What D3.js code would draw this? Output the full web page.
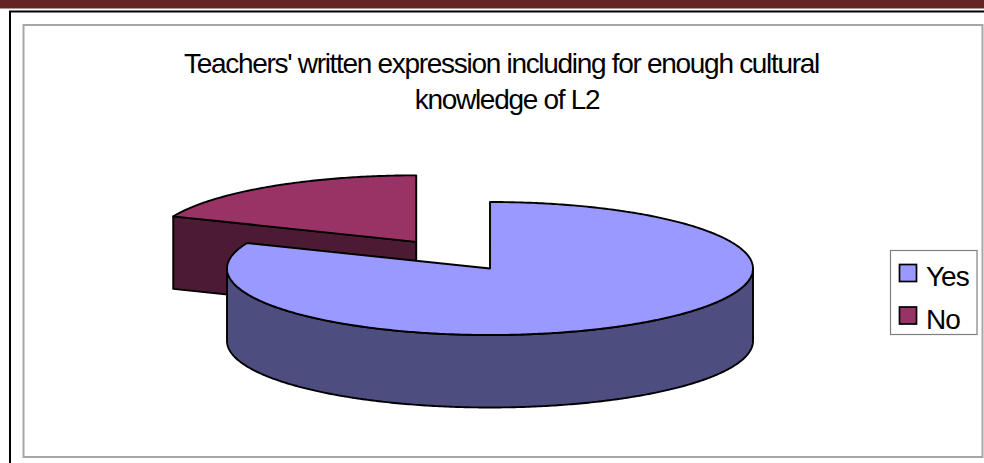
<!DOCTYPE html>
<html>
<head>
<meta charset="utf-8">
<script src="https://cdn.jsdelivr.net/npm/d3@7/dist/d3.min.js"></script>
<style>
html,body{margin:0;padding:0;background:#fff;overflow:hidden}
svg{display:block}
text{font-family:"Liberation Sans",Arial,sans-serif;fill:#000}
</style>
</head>
<body>
<script>
// Survey answers, in percent
const categories = ["Yes", "No"];
const seriesValues = [81.25, 18.75];
const titleLines = ["Teachers' written expression including for enough cultural", "knowledge of L2"];
const topColours = ["#9999ff", "#993366"];
const sideColours = ["#4d4d80", "#4d1a33"];
const explodeX = [0, 0.505];
const explodeY = [0, 0.482];

const svg = d3.select("body").append("svg").attr("width", 984).attr("height", 463);

// Page banner and the two frames round the chart
svg.append("rect").attr("x", 0).attr("y", 0).attr("width", 984).attr("height", 8.5).attr("fill", "#642424");
svg.append("rect").attr("x", 10).attr("y", 11.5).attr("width", 985).attr("height", 460)
  .attr("fill", "none").attr("stroke", "#000").attr("stroke-width", 2);
svg.append("rect").attr("x", 23.5).attr("y", 25).attr("width", 959).attr("height", 432)
  .attr("fill", "#fff").attr("stroke", "#a6a6a6").attr("stroke-width", 2);

// Title
const titleX = [501.5, 507];
const titleY = [72.5, 109];
svg.append("g").selectAll("text").data(titleLines).join("text")
  .attr("x", (d, i) => titleX[i]).attr("y", (d, i) => titleY[i])
  .attr("text-anchor", "middle").attr("font-size", 28)
  .attr("letter-spacing", -1.3)
  .text(d => d);

// Tilted pie: the ellipse radii are scales over the unit circle
const cx = 490, cy = 268.5, depth = 72.5;
const sx = d3.scaleLinear().domain([-1, 1]).range([-263, 263]);
const sy = d3.scaleLinear().domain([-1, 1]).range([-66.5, 66.5]);
const pie = d3.pie().sort(null).startAngle(0).endAngle(2 * Math.PI);
const arcs = pie(seriesValues);

const ptAt = (a, ox, oy) => [ox + sx(Math.sin(a)), oy + sy(-Math.cos(a))];
const sampleArc = (a0, a1, ox, oy) => {
  const n = Math.max(2, Math.ceil(Math.abs(a1 - a0) * 90));
  return d3.range(n + 1).map(i => ptAt(a0 + (a1 - a0) * i / n, ox, oy));
};
const line = d3.line();
const shift = (pts, dy) => pts.map(p => [p[0], p[1] + dy]);

function face(g, pts, fill) {
  g.append("path").attr("d", line(pts) + "Z").attr("fill", fill)
    .attr("stroke", "#000").attr("stroke-width", 1.9).attr("stroke-linejoin", "round");
}

const chart = svg.append("g");

// The exploded slice goes first: the large slice overlaps it
[1, 0].forEach(i => {
  const d = arcs[i];
  const mid = (d.startAngle + d.endAngle) / 2;
  const ox = cx + sx(Math.sin(mid)) * explodeX[i];
  const oy = cy + sy(-Math.cos(mid)) * explodeY[i];
  const g = chart.append("g").attr("class", "slice-" + categories[i]);
  const apex = [ox, oy];
  const startPt = ptAt(d.startAngle, ox, oy);

  if (i === 1) {
    // Cut face seen from the front, running from the rim to the centre
    face(g, [startPt, apex, shift([apex], depth)[0], shift([startPt], depth)[0]], sideColours[i]);
  } else {
    // Front wall of the rim, only where the rim faces the viewer
    const a0 = Math.max(d.startAngle, Math.PI / 2);
    const a1 = Math.min(d.endAngle, 3 * Math.PI / 2);
    const rim = sampleArc(a0, a1, ox, oy);
    face(g, rim.concat(shift(rim, depth).reverse()), sideColours[i]);
  }
  face(g, [apex].concat(sampleArc(d.startAngle, d.endAngle, ox, oy)), topColours[i]);
});

// Legend
const legend = svg.append("g");
legend.append("rect").attr("x", 890.5).attr("y", 250.5).attr("width", 86.5).attr("height", 84)
  .attr("fill", "#fff").attr("stroke", "#7f7f7f").attr("stroke-width", 1.2);
const row = d3.scalePoint().domain(categories).range([273, 315.5]);
categories.forEach((c, i) => {
  legend.append("rect").attr("x", 899.5).attr("y", row(c) - 8.5).attr("width", 17).attr("height", 17)
    .attr("fill", topColours[i]).attr("stroke", "#000").attr("stroke-width", 1.7);
  legend.append("text").attr("x", 926).attr("y", row(c) + 13)
    .attr("font-size", 28).attr("letter-spacing", -1).text(c);
});
</script>
</body>
</html>
